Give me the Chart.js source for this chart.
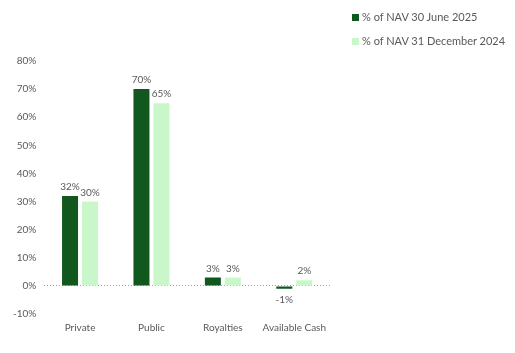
<!DOCTYPE html>
<html>
<head>
<meta charset="utf-8">
<script src="https://cdn.jsdelivr.net/npm/chart.js@4"></script>
<style>
  html, body { margin: 0; padding: 0; background: #fff; }
  #wrap { position: relative; width: 515px; height: 353px; }
  #legend { position: absolute; left: 352px; top: 10px; font-family: Lato, sans-serif; font-size: 11px; color: #595959; }
  #legend div { height: 24px; line-height: 14px; white-space: nowrap; }
  #legend span { display: inline-block; width: 7px; height: 7px; margin-right: 3px; vertical-align: 0px; }
</style>
</head>
<body>
<div id="wrap">
  <canvas id="chart" width="515" height="353"></canvas>
  <div id="legend"></div>
</div>
<script>
// Asset allocation, % of NAV
const categories = ['Private', 'Public', 'Royalties', 'Available Cash'];
const june2025 = [32, 70, 3, -1];
const dec2024 = [30, 65, 3, 2];
const seriesNames = ['% of NAV 30 June 2025', '% of NAV 31 December 2024'];
const seriesColors = ['#11581f', '#c9f7c9'];

const textColor = '#595959';
const font = { family: 'Lato, sans-serif', size: 10 };

// Draw the value labels above (or below, for negatives) each bar
const valueLabels = {
  id: 'valueLabels',
  afterDatasetsDraw(chart) {
    const ctx = chart.ctx;
    ctx.save();
    ctx.fillStyle = textColor;
    ctx.font = '10px Lato, sans-serif';
    ctx.textAlign = 'center';
    chart.data.datasets.forEach((ds, i) => {
      chart.getDatasetMeta(i).data.forEach((bar, j) => {
        const v = ds.data[j];
        if (v < 0) {
          ctx.textBaseline = 'top';
          ctx.fillText(v + '%', bar.x, bar.y + 6);
        } else {
          ctx.textBaseline = 'bottom';
          ctx.fillText(v + '%', bar.x, bar.y - 4);
        }
      });
    });
    ctx.restore();
  }
};

const chart = new Chart(document.getElementById('chart'), {
  type: 'bar',
  data: {
    labels: categories,
    datasets: [
      { label: seriesNames[0], data: june2025, backgroundColor: seriesColors[0] },
      { label: seriesNames[1], data: dec2024, backgroundColor: seriesColors[1] },
    ],
  },
  options: {
    responsive: false,
    animation: false,
    layout: { padding: { top: 61, right: 185, left: 5, bottom: 19 } },
    datasets: { bar: { categoryPercentage: 0.56, barPercentage: 0.8 } },
    plugins: { legend: { display: false }, tooltip: { enabled: false } },
    scales: {
      x: {
        grid: { display: false },
        border: { display: false },
        ticks: { color: textColor, font, padding: 0, maxRotation: 0, autoSkip: false },
      },
      y: {
        min: -10,
        max: 80,
        // dotted zero line only
        border: { display: false, dash: [1, 2] },
        grid: {
          drawTicks: false,
          color: (c) => (c.tick && c.tick.value === 0 ? '#a0a0a0' : 'transparent'),
          lineWidth: 1,
        },
        ticks: { stepSize: 10, color: textColor, font, padding: 8, callback: (v) => v + '%' },
      },
    },
  },
  plugins: [valueLabels],
});

// Legend stacked at the top right
const legend = document.getElementById('legend');
chart.data.datasets.forEach((ds) => {
  const row = document.createElement('div');
  row.innerHTML = '<span style="background:' + ds.backgroundColor + '"></span>' + ds.label;
  legend.appendChild(row);
});
</script>
</body>
</html>
